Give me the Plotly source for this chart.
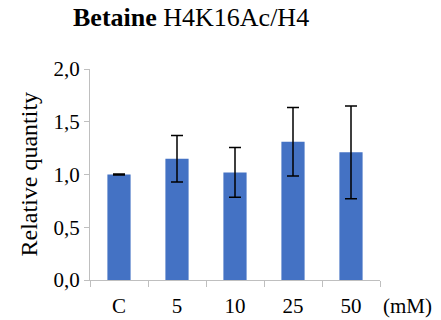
import plotly.graph_objects as go

# Betaine treatment: H4K16Ac/H4 relative quantity
categories = ["C", "5", "10", "25", "50"]
values = [1.00, 1.15, 1.02, 1.31, 1.21]
errors = [0.005, 0.22, 0.235, 0.325, 0.44]
y_ticks = [0.0, 0.5, 1.0, 1.5, 2.0]

FONT = "Liberation Serif, Times New Roman, serif"
AXIS_GREY = "#bfbfbf"

fig = go.Figure(
    go.Bar(
        x=categories,
        y=values,
        marker=dict(color="#4472C4", line=dict(width=0)),
        error_y=dict(type="data", array=errors, visible=True,
                     color="black", thickness=1.5, width=6),
    )
)

fig.update_layout(
    template="none",
    width=441, height=320,
    margin=dict(l=90, r=61, t=69, b=40),
    paper_bgcolor="white", plot_bgcolor="white",
    separators=",.",
    bargap=0.6,
    showlegend=False,
    font=dict(family=FONT, size=21, color="black"),
    title=dict(
        text="<b>Betaine</b> H4K16Ac/H4",
        font=dict(family=FONT, size=26, color="black"),
        xref="container", yref="container",
        x=73 / 441, xanchor="left",
        y=1 - 8 / 320, yanchor="top",
    ),
)

fig.update_xaxes(
    type="category", automargin=False,
    showline=True, linecolor=AXIS_GREY, linewidth=1,
    ticks="outside", tickson="boundaries", ticklen=6,
    tickcolor=AXIS_GREY, tickwidth=1,
    showgrid=False, zeroline=False,
    ticklabelstandoff=7,
    tickfont=dict(family=FONT, size=21, color="black"),
)

fig.update_yaxes(
    automargin=False,
    range=[0, 2.0], tickvals=y_ticks, tickformat=".1f",
    showline=True, linecolor=AXIS_GREY, linewidth=1,
    ticks="outside", ticklen=5, tickcolor=AXIS_GREY, tickwidth=1,
    showgrid=False, zeroline=False,
    tickfont=dict(family=FONT, size=21, color="black"),
)

fig.add_annotation(
    text="Relative quantity", textangle=-90,
    xref="paper", yref="paper",
    x=(28 - 90) / 290, y=0.5, xanchor="center", yanchor="middle",
    showarrow=False, font=dict(family=FONT, size=24, color="black"),
)

fig.add_annotation(
    text="(mM)",
    xref="paper", yref="paper",
    x=(407.5 - 90) / 290, y=(280 - 306) / 211,
    xanchor="center", yanchor="middle",
    showarrow=False, font=dict(family=FONT, size=21, color="black"),
)

fig.write_html("out.html")
